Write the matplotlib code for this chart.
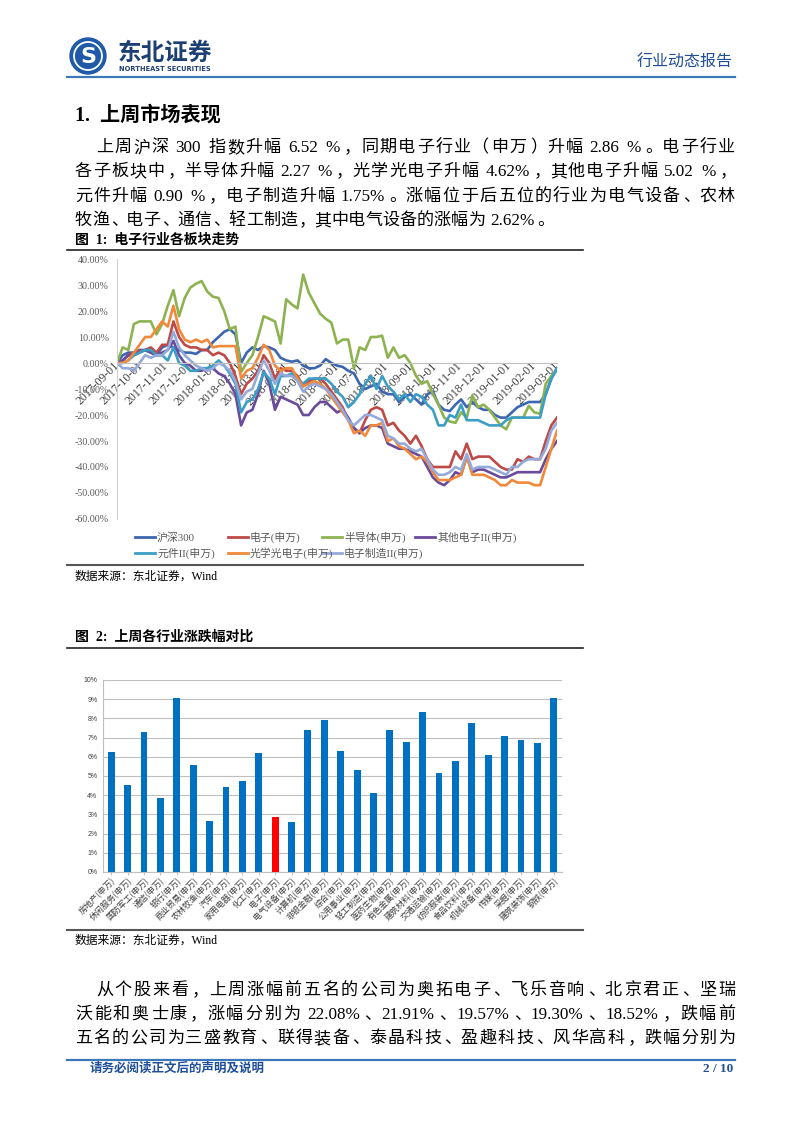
import re
import numpy as np
import pandas as pd
import matplotlib
matplotlib.use('Agg')
import matplotlib.pyplot as plt
import matplotlib.patches as patches

# 字体：西文用 Liberation Serif，中文回落到 Noto Sans CJK SC
FONT = ['Liberation Serif', 'Noto Sans CJK SC']
plt.rcParams['font.family'] = FONT

# ---------------- 图1 数据：电子行业各板块走势（周度累计涨跌幅 %） ----------------
hs300 = [0, 3, 4, 4, 5, 5, 4, 3, 6, 7,
         6, 5, 4, 4, 3.5, 5, 5, 8, 10, 12,
         13, 11, 0, 4, 6, 5, 6.5, 6, 5, 2,
         1, 0.5, 1, -1, -2, -2, -1, 1.5, 0, -1,
         -1.5, -3, -4, -8, -10, -9, -8, -11, -12, -12,
         -15, -13, -12, -14, -16, -12, -11, -16, -18, -18.5,
         -16, -14, -17, -15, -17, -18, -18, -20, -21, -21,
         -19, -17, -16, -15, -15, -15, -12, -6, -2]
dianzi = [0, 1, 3, 4, 4.5, 5, 6, 4, 7, 7,
          16, 10, 7, 6, 6, 5, 5, 3, 4, 3,
          0, -5, -12, -8, -6, -3, 3, 0, -6, -2,
          -3, -3, -5, -9, -7, -6, -6, -8, -11, -14,
          -17, -22, -25, -27, -22, -18, -17, -18, -24, -23,
          -26, -28, -31, -28, -32, -37, -40, -40, -40, -40,
          -34, -37, -31, -37, -36, -36, -36, -38, -40, -41,
          -41, -37, -38, -36, -37, -37, -30, -24, -21]
bandaoti = [0, 6, 5, 15, 16, 16, 16, 11, 15, 22,
            28, 18, 25, 29, 30.5, 31.5, 27.5, 25.5, 25, 20,
            13, 14, -3.5, 0, 3, 10, 18, 17, 16, 7.5,
            24.5, 22.5, 21, 34, 27, 23, 19, 17, 15.5, 7.5,
            9, 9, -2, 6, 5, 10, 10, 10.5, 2, 6,
            2, 3, 0, -5, -8, -7, -12, -16, -21, -22.5,
            -23, -19, -21, -12.5, -17, -16, -18, -21, -24, -25.5,
            -21, -21, -21, -16.5, -19, -19.5, -8, -5, -3]
qita = [0, 1, 3, 3, 4, 5, 4, 3, 4, 5,
        8.5, 3, 0, -1, -3, -3, -2, -2, -4, -5,
        -8, -12, -24, -19, -18, -12, -3, -8, -18, -13,
        -14, -15, -16, -20, -20, -17, -15, -15, -17, -19,
        -18, -21, -25, -27, -25, -24, -24, -25, -31, -32,
        -33, -33, -34, -35, -36, -40, -44, -46, -47, -45,
        -42, -43, -36, -42, -41, -41, -42, -43, -44, -44,
        -43, -42, -42, -42, -42, -42, -37, -33, -30]
yuanjian = [0, 0, 1, 3, 4, 5, 5, 3, 3, 1,
            6, 0, -1, -3, -3, -2, -2, -1, 1, -1,
            -4, -8, -19, -15, -14, -10, -3.5, -6, -12, -5,
            -5, -4, -6, -8, -6, -6, -6, -6, -8, -11,
            -13, -17, -15, -12, -8, -5, -10, -5, -9, -11,
            -14, -12, -15, -12, -13, -16, -18, -24, -24, -20,
            -21, -16, -22, -22, -22, -23, -24, -24, -24, -22,
            -21, -21, -21, -21, -21, -21, -12, -6, -2]
guangxue = [0, 0, 1, 4, 7, 10, 10, 13, 16, 14,
            22, 13, 9, 8, 9, 8, 9, 6, 6.5, 6.5,
            6.5, 6.5, -6, -3, -2, 2, 7, 5, -1, -3,
            -2, -2, -6, -9, -8, -7, -8, -10, -13, -16,
            -19, -22, -27, -26, -28, -24, -24, -23, -30, -29,
            -32, -33, -35, -37, -36, -38, -42, -45, -45, -45,
            -44, -43, -36, -43, -43, -43, -44, -45, -47, -47,
            -45, -46, -46, -46, -47, -47, -40, -33, -26]
zhizao = [0, -2, -2, -3, 0, 3, 2, 3, 3, 5,
          12, 6, 3, 1, -1, -2, -3, -2, 0, -1,
          -3, -7, -14, -11, -10, -4, 1, -3, -8, -4,
          -5, -5, -7, -11, -9, -8, -9, -10, -12, -15,
          -18, -22, -24, -22, -20, -20, -21, -22, -28, -29,
          -31, -31, -33, -34, -33, -37, -41, -43, -43, -42,
          -40, -41, -35, -41, -40, -40, -40, -41, -42, -43,
          -40, -40, -38, -37, -37, -37, -33, -26, -23]

line_names = ['沪深300', '电子(申万)', '半导体(申万)', '其他电子II(申万)',
              '元件II(申万)', '光学光电子(申万)', '电子制造II(申万)']
line_series = [hs300, dianzi, bandaoti, qita, yuanjian, guangxue, zhizao]
line_colors = ['#3C66B0', '#BD4A47', '#8DB351', '#6A4A9A', '#3B9EC4', '#F0893B', '#93AADB']

# ---------------- 图2 数据：上周各行业涨跌幅（%） ----------------
industries = ['房地产(申万)', '休闲服务(申万)', '国防军工(申万)', '通信(申万)', '银行(申万)',
              '商业贸易(申万)', '农林牧渔(申万)', '汽车(申万)', '家用电器(申万)', '化工(申万)',
              '电子(申万)', '电气设备(申万)', '计算机(申万)', '非银金融(申万)', '综合(申万)',
              '公用事业(申万)', '轻工制造(申万)', '医药生物(申万)', '有色金属(申万)', '建筑材料(申万)',
              '交通运输(申万)', '纺织服装(申万)', '食品饮料(申万)', '机械设备(申万)', '传媒(申万)',
              '采掘(申万)', '建筑装饰(申万)', '钢铁(申万)']
weekly_chg = [6.25, 4.52, 7.28, 3.85, 9.06, 5.57, 2.67, 4.41, 4.74, 6.22,
              2.86, 2.62, 7.38, 7.93, 6.30, 5.33, 4.10, 7.40, 6.77, 8.32,
              5.16, 5.78, 7.77, 6.09, 7.08, 6.86, 6.72, 9.05]

para1 = ['上周沪深 300 指数升幅 6.52 %，同期电子行业（申万）升幅 2.86 %。电子行业',
         '各子板块中，半导体升幅 2.27 %，光学光电子升幅 4.62%，其他电子升幅 5.02 %，',
         '元件升幅 0.90 %，电子制造升幅 1.75%。涨幅位于后五位的行业为电气设备、农林',
         '牧渔、电子、通信、轻工制造，其中电气设备的涨幅为 2.62%。']
para2 = ['从个股来看，上周涨幅前五名的公司为奥拓电子、飞乐音响、北京君正、坚瑞',
         '沃能和奥士康，涨幅分别为 22.08%、21.91%、19.57%、19.30%、18.52%，跌幅前',
         '五名的公司为三盛教育、联得装备、泰晶科技、盈趣科技、风华高科，跌幅分别为']

NAVY = '#1F4E9A'

fig = plt.figure(figsize=(8.02, 11.33), dpi=100)

# 整页坐标系（单位 = 像素，y 向下）
page = fig.add_axes([0, 0, 1, 1], zorder=0)
page.set_xlim(0, 802)
page.set_ylim(1133, 0)
page.axis('off')
renderer = fig.canvas.get_renderer()


def text_line(x0, x1, y, s, size, justify=True, **kw):
    """逐字排版一行，两端对齐（空格不参与分配间距）"""
    toks = re.findall(r'[!-~]+| |.', s)
    em = size * 100 / 72
    items = []
    for tk in toks:
        if tk == ' ':
            items.append((None, em * 0.3, tk))
            continue
        t = page.text(x0, y, tk, fontsize=size, va='baseline', ha='left', **kw)
        w = t.get_window_extent(renderer).width + 1 if tk.isascii() else em
        items.append((t, w, tk))
    n_slots = sum(1 for t, _, _ in items if t is not None) - 1
    total = sum(w for _, w, _ in items)
    gap = (x1 - x0 - total) / n_slots if justify else 0
    x = x0
    for t, w, tk in items:
        if t is None:
            x += w
            continue
        if not tk.isascii() and tk not in '，。、：；（）':
            t.set_ha('center')
            t.set_x(x + w / 2)
        elif tk == '（':
            t.set_ha('right')
            t.set_x(x + w * 0.9)
        elif tk in '，。、：；）':
            t.set_x(x + w * 0.1)
        else:
            t.set_x(x)
        x += w + gap


# 页眉
page.add_patch(patches.Circle((88, 56), 18, color='#1E5AA8'))
page.add_patch(patches.Circle((88, 56), 14, fill=False, ec='white', lw=1.3))
page.text(88, 57, 'S', color='white', fontsize=16, fontweight='bold', ha='center',
          va='center', family='DejaVu Sans')
page.text(118, 53, '东北证券', fontsize=17, fontweight='bold', color='#1C3F74',
          va='center', family='Noto Sans CJK SC')
page.text(119, 69, 'NORTHEAST SECURITIES', fontsize=4.8, fontweight='bold', color='#1C3F74',
          va='center', family='DejaVu Sans')
page.text(733, 63, '行业动态报告', fontsize=11.5, color=NAVY, ha='right', va='center')
page.plot([67, 735], [77, 77], color='#3C78B8', lw=1.6)

# 标题与正文
page.text(75, 116, '1.  上周市场表现', fontsize=14.5, fontweight='bold', va='center')
body_y = [152, 176, 201, 225]
for i, (s, y) in enumerate(zip(para1, body_y)):
    text_line(96 if i == 0 else 75, 735, y, s, 12.3, justify=(i < len(para1) - 1))

# 图1 标题
page.text(75, 240, '图  1:  电子行业各板块走势', fontsize=10, fontweight='bold', va='center')
page.plot([67, 583], [250, 250], color='#222222', lw=1.2)

# 图1：折线图
ax1 = fig.add_axes([117 / 802, 1 - 519 / 1133, 440 / 802, 260 / 1133], zorder=2)
ax1.patch.set_alpha(0)
dates = pd.date_range('2017-09-01', '2019-03-01', periods=len(hs300))
for vals, c in zip(line_series, line_colors):
    ax1.plot(dates, vals, color=c, lw=1.9, solid_joinstyle='round')
ax1.set_xlim(dates[0], dates[-1])
ax1.set_ylim(-60, 40)
yt = list(range(-60, 41, 10))
ax1.set_yticks(yt)
ax1.set_yticklabels([f'{v:.2f}%' for v in yt])
months = pd.date_range('2017-09-01', '2019-03-01', freq='MS')
ax1.set_xticks(months)
ax1.set_xticklabels([d.strftime('%Y-%m-%d') for d in months])
ax1.spines['bottom'].set_position(('data', 0))
ax1.spines['bottom'].set_color('#BFBFBF')
ax1.spines['left'].set_color('#D0D0D0')
ax1.spines['top'].set_visible(False)
ax1.spines['right'].set_visible(False)
ax1.tick_params(axis='both', length=0)
ax1.tick_params(axis='y', pad=6, labelsize=7.2, labelcolor='#595959')
ax1.tick_params(axis='x', pad=1, labelsize=8.5, labelcolor='#404040')
plt.setp(ax1.get_xticklabels(), rotation=45, ha='right', va='center', rotation_mode='anchor')

# 图1 图例（两行，每行四列）
leg_x = [135, 228, 322, 415]
leg_y = [537, 553]
for i, (name, c) in enumerate(zip(line_names, line_colors)):
    x = leg_x[i % 4]
    y = leg_y[i // 4]
    page.plot([x, x + 20], [y, y], color=c, lw=2)
    page.text(x + 22, y + 0.5, name, fontsize=7.8, color='#595959', va='center')

page.plot([67, 583], [565, 565], color='#555555', lw=1.5)
page.text(75, 577, '数据来源：东北证券，Wind', fontsize=8.5, va='center')

# 图2 标题
page.text(75, 637, '图  2:  上周各行业涨跌幅对比', fontsize=10, fontweight='bold', va='center')
page.plot([67, 583], [648, 648], color='#222222', lw=1.2)

# 图2：柱状图
ax2 = fig.add_axes([103 / 802, 1 - 872 / 1133, 459 / 802, 192 / 1133], zorder=2)
ax2.patch.set_alpha(0)
bar_colors = ['#FF0000' if n == '电子(申万)' else '#0070C0' for n in industries]
xpos = np.arange(len(industries))
ax2.bar(xpos, weekly_chg, width=0.42, color=bar_colors, zorder=3)
ax2.set_xlim(-0.5, len(industries) - 0.5)
ax2.set_ylim(0, 10)
ax2.set_yticks(range(0, 11))
ax2.set_yticklabels([f'{v}%' for v in range(0, 11)], fontsize=5, color='#404040',
                    family='Liberation Sans')
ax2.yaxis.grid(True, color='#BFBFBF', lw=0.8)
ax2.set_axisbelow(True)
ax2.set_xticks(xpos)
ax2.set_xticklabels(industries, fontsize=6, color='#404040', family='Noto Sans CJK SC')
for s in ['top', 'right']:
    ax2.spines[s].set_visible(False)
ax2.spines['left'].set_color('#BFBFBF')
ax2.spines['bottom'].set_color('#BFBFBF')
ax2.tick_params(axis='y', length=0, pad=4)
ax2.tick_params(axis='x', length=2, color='#BFBFBF', pad=1)
plt.setp(ax2.get_xticklabels(), rotation=45, ha='right', va='top', rotation_mode='anchor')

page.plot([67, 583], [930, 930], color='#555555', lw=1.5)
page.text(75, 941, '数据来源：东北证券，Wind', fontsize=8.5, va='center')

# 第二段正文
body2_y = [995, 1019, 1043]
for i, (s, y) in enumerate(zip(para2, body2_y)):
    text_line(96 if i == 0 else 75, 735, y, s, 12.3, justify=True)

# 页脚
page.plot([67, 735], [1060, 1060], color='#3C78B8', lw=1.6)
page.text(90, 1069, '请务必阅读正文后的声明及说明', fontsize=9, fontweight='bold', color=NAVY,
          va='center')
page.text(733, 1069, '2 / 10', fontsize=9.5, fontweight='bold', color=NAVY, ha='right',
          va='center')

fig.savefig('out.png', dpi=100)
